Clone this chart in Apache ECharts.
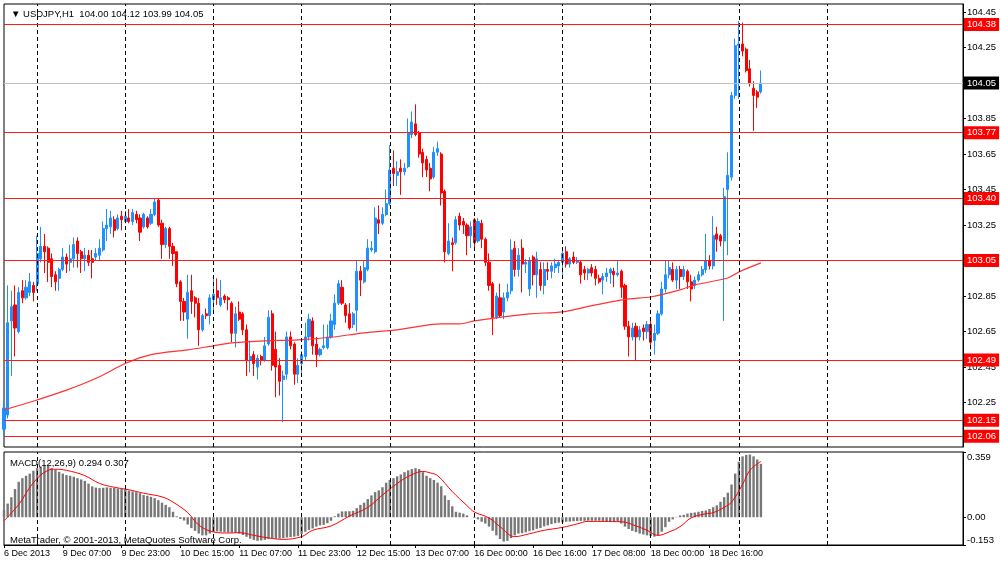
<!DOCTYPE html>
<html><head><meta charset="utf-8">
<script src="https://cdn.jsdelivr.net/npm/echarts@6/dist/echarts.min.js"></script>
<style>html,body{margin:0;padding:0;background:#fff}#c{width:1000px;height:562px}</style>
</head><body><div id="c"></div>
<script>
// ---- data ----
const barCount = 262;
// [open, close, low, high] per hourly bar, from 6 Dec 2013 14:00
const candles = [
[102.10,102.22,102.05,102.26],[102.18,102.70,102.16,102.91],[102.71,102.79,102.40,102.88],[102.80,102.67,102.51,102.91],[102.65,102.87,102.64,102.90],
[102.88,102.84,102.81,102.94],[102.84,102.90,102.83,102.94],[102.87,102.93,102.85,102.98],[102.91,102.87,102.82,102.93],[102.92,103.09,102.88,103.19],
[103.06,103.13,103.04,103.24],[103.13,103.10,102.98,103.20],[103.12,103.04,102.93,103.13],[103.06,102.96,102.90,103.09],[102.97,102.93,102.88,102.99],
[102.95,103.00,102.88,103.01],[103.00,103.07,102.99,103.12],[103.07,103.03,102.98,103.09],[103.04,103.06,102.99,103.14],[103.06,103.14,103.01,103.18],
[103.16,103.09,103.01,103.18],[103.10,103.06,102.98,103.11],[103.06,103.08,102.99,103.12],[103.08,103.04,103.02,103.11],[103.06,103.04,102.95,103.11],
[103.07,103.09,103.05,103.12],[103.08,103.12,103.05,103.17],[103.11,103.23,103.10,103.27],[103.23,103.25,103.16,103.34],[103.24,103.29,103.20,103.33],
[103.28,103.22,103.18,103.30],[103.23,103.29,103.22,103.31],[103.30,103.28,103.22,103.33],[103.27,103.30,103.26,103.33],[103.29,103.27,103.26,103.34],
[103.27,103.32,103.25,103.34],[103.31,103.28,103.26,103.33],[103.29,103.21,103.16,103.31],[103.24,103.31,103.23,103.32],[103.29,103.24,103.23,103.30],
[103.26,103.31,103.25,103.34],[103.31,103.38,103.30,103.40],[103.39,103.25,103.24,103.40],[103.26,103.14,103.06,103.28],[103.14,103.23,103.12,103.24],
[103.23,103.13,103.06,103.24],[103.13,103.09,103.02,103.15],[103.10,102.92,102.90,103.10],[102.93,102.82,102.71,102.94],[102.82,102.76,102.71,102.84],
[102.72,102.87,102.61,102.97],[102.88,102.82,102.75,102.97],[102.84,102.81,102.73,102.85],[102.81,102.66,102.57,102.84],[102.66,102.74,102.65,102.75],
[102.75,102.74,102.72,102.78],[102.74,102.84,102.69,102.86],[102.83,102.86,102.77,102.95],[102.88,102.84,102.80,102.95],[102.80,102.84,102.79,102.94],
[102.85,102.83,102.81,102.86],[102.84,102.83,102.77,102.85],[102.81,102.64,102.59,102.82],[102.64,102.75,102.56,102.79],[102.76,102.72,102.71,102.82],
[102.75,102.66,102.63,102.76],[102.66,102.49,102.40,102.69],[102.49,102.51,102.42,102.60],[102.52,102.47,102.40,102.54],[102.45,102.50,102.38,102.52],
[102.51,102.49,102.46,102.52],[102.49,102.57,102.48,102.62],[102.58,102.73,102.57,102.77],[102.75,102.46,102.43,102.77],[102.55,102.45,102.28,102.65],
[102.46,102.37,102.29,102.50],[102.38,102.40,102.14,102.43],[102.41,102.62,102.38,102.65],[102.62,102.57,102.55,102.65],[102.58,102.41,102.35,102.59],
[102.41,102.46,102.36,102.50],[102.47,102.52,102.41,102.54],[102.51,102.62,102.49,102.70],[102.62,102.72,102.60,102.75],[102.71,102.57,102.52,102.73],
[102.58,102.52,102.45,102.62],[102.52,102.55,102.51,102.56],[102.56,102.57,102.55,102.69],[102.56,102.62,102.55,102.69],[102.62,102.71,102.61,102.75],
[102.69,102.81,102.66,102.86],[102.81,102.92,102.80,102.94],[102.90,102.81,102.80,102.94],[102.80,102.74,102.70,102.81],[102.75,102.67,102.66,102.81],
[102.69,102.75,102.67,102.76],[102.77,102.99,102.65,103.05],[102.99,102.94,102.85,103.02],[102.93,103.01,102.92,103.05],[103.00,103.12,102.99,103.17],
[103.11,103.12,103.10,103.16],[103.10,103.29,103.09,103.35],[103.28,103.26,103.20,103.36],[103.26,103.31,103.25,103.35],[103.31,103.37,103.30,103.45],
[103.37,103.56,103.36,103.70],[103.57,103.54,103.47,103.67],[103.53,103.55,103.47,103.61],[103.57,103.55,103.42,103.62],[103.55,103.57,103.53,103.60],
[103.58,103.77,103.57,103.85],[103.76,103.83,103.74,103.89],[103.82,103.76,103.75,103.93],[103.77,103.65,103.63,103.78],[103.66,103.60,103.52,103.68],
[103.62,103.56,103.52,103.64],[103.57,103.51,103.44,103.60],[103.52,103.66,103.51,103.69],[103.66,103.68,103.64,103.72],[103.65,103.43,103.36,103.66],
[103.44,103.10,103.04,103.45],[103.09,103.16,103.08,103.26],[103.15,103.14,102.99,103.18],[103.15,103.28,103.14,103.30],[103.30,103.25,103.22,103.32],
[103.27,103.25,103.20,103.29],[103.25,103.19,103.08,103.26],[103.19,103.24,103.12,103.27],[103.28,103.15,103.12,103.29],[103.16,103.27,103.15,103.29],
[103.26,103.17,103.12,103.28],[103.17,103.04,103.02,103.18],[103.04,102.91,102.88,103.09],[102.92,102.73,102.63,102.93],[102.73,102.85,102.72,102.87],
[102.84,102.74,102.73,102.92],[102.76,102.84,102.72,102.87],[102.84,102.87,102.82,102.92],[102.88,103.11,102.86,103.17],[103.12,103.00,102.96,103.16],
[103.00,103.08,102.96,103.12],[103.12,103.03,102.87,103.17],[103.03,103.04,102.98,103.06],[102.89,103.05,102.85,103.07],[103.07,102.97,102.91,103.08],
[102.97,103.06,102.84,103.10],[103.00,102.91,102.88,103.04],[102.91,103.00,102.86,103.04],[103.00,102.99,102.94,103.04],[102.99,103.02,102.95,103.04],
[103.01,103.03,102.98,103.06],[103.02,103.04,102.98,103.05],[103.04,103.09,102.97,103.11],[103.10,103.03,103.01,103.13],[103.03,103.06,103.01,103.07],
[103.07,103.04,103.03,103.10],[103.04,103.05,103.03,103.07],[103.04,102.97,102.92,103.05],[103.00,102.98,102.94,103.02],[102.98,103.00,102.94,103.01],
[103.01,102.98,102.96,103.03],[103.00,102.95,102.91,103.02],[102.95,102.93,102.92,102.97],[102.94,102.96,102.86,102.98],[102.96,102.98,102.93,103.01],
[102.98,103.00,102.92,103.01],[102.99,102.97,102.90,103.01],[102.97,102.98,102.96,103.05],[102.99,102.90,102.84,103.00],[102.91,102.68,102.66,102.92],
[102.68,102.62,102.51,102.71],[102.62,102.67,102.60,102.70],[102.68,102.62,102.49,102.70],[102.62,102.66,102.60,102.68],[102.67,102.65,102.60,102.69],
[102.65,102.69,102.61,102.71],[102.69,102.59,102.55,102.72],[102.60,102.64,102.52,102.69],[102.64,102.75,102.63,102.77],[102.75,102.89,102.74,102.93],
[102.89,102.97,102.87,103.05],[102.97,103.01,102.95,103.05],[103.00,102.94,102.93,103.04],[102.94,103.00,102.89,103.02],[103.00,102.96,102.89,103.02],
[102.96,103.00,102.94,103.02],[102.99,102.93,102.89,103.00],[102.93,102.89,102.82,102.97],[102.91,102.94,102.89,102.96],[102.94,102.97,102.93,102.99],
[102.97,103.00,102.96,103.02],[103.00,103.05,102.98,103.20],[103.05,103.02,103.00,103.08],[103.02,103.19,103.00,103.30],[103.20,103.17,103.10,103.24],
[103.19,103.16,103.13,103.20],[103.16,103.41,102.71,103.46],[103.45,103.53,103.08,103.66],[103.52,103.98,103.50,104.00],[103.98,104.26,103.96,104.30],
[104.26,104.27,103.96,104.40],[104.27,104.23,104.20,104.39],[104.24,104.12,104.11,104.25],[104.13,104.05,104.03,104.18],[104.02,103.98,103.78,104.06],
[104.00,103.97,103.91,104.01],[104.00,104.05,103.99,104.12]
];
// moving average, read at sample bars: [bar, price]
const maPoints = [[0,102.209],[9,102.265],[17,102.32],[26,102.396],[33,102.47],[40,102.52],[50,102.547],[57,102.57],[62,102.586],[71,102.598],[80,102.603],[89,102.618],[98,102.643],[107,102.66],[119,102.693],[124,102.693],[128,102.71],[143,102.75],[152,102.761],[161,102.80],[170,102.834],[176,102.845],[184,102.885],[188,102.913],[197,102.952],[200,102.986],[206,103.037]];
// MACD main (histogram), one per bar
const macdHist = [0.039,0.075,0.11,0.155,0.195,0.215,0.228,0.24,0.256,0.27,
0.279,0.283,0.283,0.27,0.262,0.25,0.24,0.232,0.228,0.223,
0.215,0.208,0.2,0.185,0.17,0.163,0.16,0.162,0.164,0.162,
0.161,0.158,0.157,0.155,0.146,0.142,0.138,0.132,0.122,0.118,
0.112,0.105,0.094,0.08,0.068,0.055,0.03,0.005,-0.01,-0.018,
-0.04,-0.06,-0.075,-0.09,-0.1,-0.1,-0.09,-0.082,-0.078,-0.08,
-0.082,-0.084,-0.085,-0.087,-0.09,-0.098,-0.108,-0.118,-0.126,-0.13,
-0.128,-0.125,-0.12,-0.117,-0.118,-0.118,-0.115,-0.112,-0.11,-0.107,
-0.103,-0.092,-0.08,-0.07,-0.062,-0.052,-0.045,-0.042,-0.033,-0.02,
0.005,0.02,0.032,0.033,0.033,0.035,0.05,0.068,0.08,0.1,
0.12,0.138,0.148,0.165,0.19,0.205,0.215,0.225,0.235,0.248,
0.258,0.265,0.27,0.265,0.248,0.228,0.215,0.205,0.19,0.17,
0.12,0.095,0.06,0.03,0.025,0.02,0.01,0.0,-0.005,-0.012,
-0.025,-0.035,-0.052,-0.075,-0.1,-0.12,-0.134,-0.13,-0.115,-0.1,
-0.09,-0.088,-0.083,-0.077,-0.072,-0.064,-0.06,-0.05,-0.045,-0.038,
-0.033,-0.03,-0.028,-0.025,-0.024,-0.022,-0.021,-0.02,-0.02,-0.019,
-0.019,-0.019,-0.019,-0.02,-0.021,-0.021,-0.022,-0.023,-0.035,-0.052,
-0.065,-0.075,-0.082,-0.09,-0.095,-0.1,-0.104,-0.107,-0.1,-0.08,
-0.055,-0.025,-0.012,0.002,0.01,0.013,0.02,0.024,0.026,0.03,
0.034,0.037,0.045,0.055,0.065,0.085,0.11,0.135,0.18,0.24,
0.305,0.335,0.343,0.345,0.335,0.318,0.294];
// MACD signal, read at sample bars: [bar, value]
const signalPoints = [[0,-0.02],[4,0.07],[8,0.19],[12,0.258],[14,0.264],[17,0.258],[22,0.229],[26,0.186],[30,0.165],[34,0.151],[38,0.132],[43,0.112],[46,0.083],[50,0.025],[53,-0.043],[57,-0.081],[61,-0.087],[64,-0.085],[68,-0.1],[72,-0.114],[76,-0.122],[81,-0.107],[84,-0.072],[89,-0.048],[94,0.006],[99,0.054],[103,0.122],[108,0.2],[111,0.234],[114,0.252],[116,0.244],[118,0.229],[122,0.141],[126,0.064],[128,0.029],[132,-0.004],[135,-0.052],[139,-0.107],[143,-0.091],[147,-0.072],[152,-0.056],[156,-0.037],[159,-0.023],[168,-0.025],[172,-0.048],[175,-0.072],[178,-0.1],[181,-0.081],[184,-0.052],[187,-0.004],[191,0.019],[193,0.025],[196,0.054],[198,0.083],[201,0.18],[203,0.258],[206,0.307]];
const levels = [104.38, 103.77, 103.40, 103.05, 102.49, 102.15, 102.06];
const lastPrice = 104.05;
const dayLineBars = [9, 33, 57, 81, 105, 128, 152, 176, 200, 224];
const timeLabelBars = [0, 16, 32, 48, 64, 80, 96, 112, 128, 144, 160, 176, 192];
const timeLabels = ['6 Dec 2013','9 Dec 07:00','9 Dec 23:00','10 Dec 15:00','11 Dec 07:00','11 Dec 23:00','12 Dec 15:00','13 Dec 07:00','16 Dec 00:00','16 Dec 16:00','17 Dec 08:00','18 Dec 00:00','18 Dec 16:00'];
const priceTicks = [102.05,102.25,102.45,102.65,102.85,103.05,103.25,103.45,103.65,103.85,104.05,104.25,104.45];
const macdTicks = [-0.153, 0, 0.359];
const headerText = '\u25BC USDJPY,H1  104.00 104.12 103.99 104.05';
const macdText = 'MACD(12,26,9) 0.294 0.307';
const copyrightText = 'MetaTrader, \u00A9 2001-2013, MetaQuotes Software Corp.';

// ---- chart ----
const FONT = 'Liberation Sans';
const categories = Array.from({length: barCount}, (_, i) => i);
const isLabelBar = (idx) => timeLabelBars.indexOf(idx) >= 0;
const chart = echarts.init(document.getElementById('c'), null, {renderer: 'canvas'});
const dashLine = {color: '#000', width: 1, type: [4, 3]};
const vLines = dayLineBars.map(b => ({xAxis: b}));
const hLines = levels.map(v => ({yAxis: v}))
  .concat([{yAxis: lastPrice, lineStyle: {color: '#C0C0C0', type: 'solid', width: 1},
            label: {backgroundColor: '#000'}}]);
const txt = {fontSize: 9.5, fontWeight: 'normal', color: '#000', fontFamily: FONT};

chart.setOption({
  animation: false,
  backgroundColor: '#fff',
  textStyle: {fontFamily: FONT},
  title: [
    {text: headerText, left: 6, top: 4, textStyle: txt},
    {text: macdText, left: 5, top: 453, textStyle: txt},
    {text: copyrightText, left: 5, top: 530, textStyle: txt}
  ],
  grid: [
    {left: 4, right: 37, top: 4, height: 443, show: true, borderColor: '#000', borderWidth: 1, backgroundColor: '#fff'},
    {left: 4, right: 37, top: 452, height: 93, show: true, borderColor: '#000', borderWidth: 1, backgroundColor: '#fff'}
  ],
  xAxis: [
    {type: 'category', gridIndex: 0, data: categories, boundaryGap: false,
     axisLine: {show: false}, axisTick: {show: false}, axisLabel: {show: false}, splitLine: {show: false}},
    {type: 'category', gridIndex: 1, data: categories, boundaryGap: false,
     axisLine: {show: true, onZero: false, lineStyle: {color: '#000'}},
     axisTick: {show: true, interval: isLabelBar, length: 3, lineStyle: {color: '#000'}},
     axisLabel: {show: true, interval: isLabelBar, align: 'left', margin: 4, fontSize: 9, color: '#000', fontFamily: FONT,
       formatter: (v, idx) => { const k = timeLabelBars.indexOf(idx); return k >= 0 ? timeLabels[k] : ''; }},
     splitLine: {show: false}}
  ],
  yAxis: [
    {type: 'value', gridIndex: 0, position: 'right', min: 102.0, max: 104.495, scale: true,
     axisLine: {show: true, lineStyle: {color: '#000'}},
     axisTick: {show: true, length: 3, customValues: priceTicks, lineStyle: {color: '#000'}},
     axisLabel: {show: true, customValues: priceTicks, margin: 4, fontSize: 9.5, color: '#000', fontFamily: FONT,
       formatter: v => v.toFixed(2)},
     splitLine: {show: false}},
    {type: 'value', gridIndex: 1, position: 'right', min: -0.153, max: 0.359,
     axisLine: {show: true, lineStyle: {color: '#000'}},
     axisTick: {show: true, length: 3, customValues: macdTicks, lineStyle: {color: '#000'}},
     axisLabel: {show: true, customValues: macdTicks, margin: 4, fontSize: 9.5, color: '#000', fontFamily: FONT,
       formatter: v => v === 0 ? '0.00' : (v > 0 ? '\n' + v.toFixed(3) : v.toFixed(3) + '\n')},
     splitLine: {show: false}}
  ],
  series: [
    {type: 'candlestick', name: 'USDJPY', xAxisIndex: 0, yAxisIndex: 0, data: candles,
     barWidth: 2.6, silent: true, z: 3,
     itemStyle: {color: '#1E90FF', color0: '#FF0000', borderColor: '#1E90FF', borderColor0: '#FF0000', borderWidth: 1},
     markLine: {silent: true, symbol: ['none', 'none'], animation: false, lineStyle: dashLine,
       label: {show: false}, data: vLines}},
    {type: 'line', name: 'MA', xAxisIndex: 0, yAxisIndex: 0, data: maPoints, smooth: 0.3,
     showSymbol: false, silent: true, z: 4, lineStyle: {color: '#FF3333', width: 1.2},
     markLine: {silent: true, symbol: ['none', 'none'], animation: false,
       lineStyle: {color: '#FF1A1A', width: 1.2, type: 'solid'},
       label: {show: true, position: 'end', distance: 1, formatter: p => p.value.toFixed(2),
         color: '#fff', backgroundColor: '#FF0000', padding: [2, 3, 1, 3], fontSize: 9.5, fontFamily: FONT},
       data: hLines}},
    {type: 'bar', name: 'MACD', xAxisIndex: 1, yAxisIndex: 1, data: macdHist, barWidth: 2.4,
     silent: true, itemStyle: {color: '#777777'},
     markLine: {silent: true, symbol: ['none', 'none'], animation: false, lineStyle: dashLine,
       label: {show: false}, data: vLines}},
    {type: 'line', name: 'Signal', xAxisIndex: 1, yAxisIndex: 1, data: signalPoints, smooth: 0.4,
     showSymbol: false, silent: true, z: 4, lineStyle: {color: '#FF0000', width: 1}}
  ]
});
</script>
</body></html>
